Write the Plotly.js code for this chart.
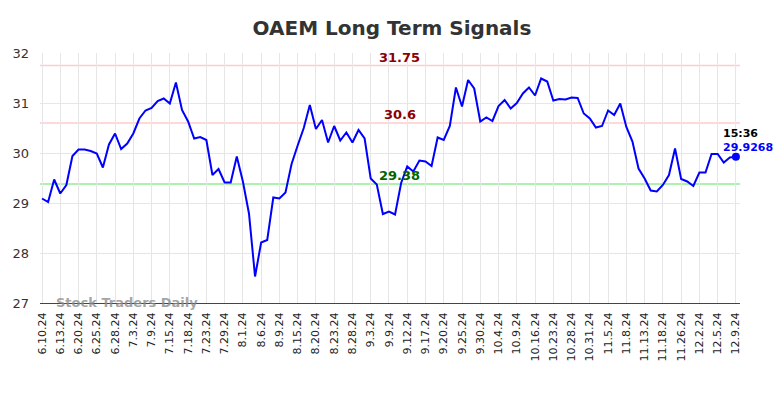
<!DOCTYPE html>
<html>
<head>
<meta charset="utf-8">
<script src="https://cdn.plot.ly/plotly-3.0.1.min.js"></script>
<style>html,body{margin:0;padding:0;background:#fff;}#chart{width:784px;height:398px;}</style>
</head>
<body>
<div id="chart"></div>
<script>
const tickLabels = ["6.10.24","6.13.24","6.20.24","6.25.24","6.28.24","7.3.24","7.9.24","7.15.24","7.18.24","7.23.24","7.29.24","8.1.24","8.6.24","8.9.24","8.15.24","8.20.24","8.23.24","8.28.24","9.3.24","9.9.24","9.12.24","9.17.24","9.20.24","9.25.24","9.30.24","10.4.24","10.9.24","10.16.24","10.23.24","10.28.24","10.31.24","11.5.24","11.8.24","11.13.24","11.18.24","11.26.24","12.2.24","12.5.24","12.9.24"];
const prices = [29.09,29.02,29.47,29.19,29.36,29.94,30.07,30.07,30.04,29.99,
29.71,30.17,30.39,30.08,30.19,30.39,30.69,30.85,30.90,31.04,
31.09,30.99,31.41,30.86,30.63,30.29,30.32,30.26,29.56,29.68,
29.41,29.41,29.93,29.43,28.79,27.53,28.21,28.26,29.11,29.09,
29.21,29.78,30.15,30.50,30.96,30.48,30.66,30.21,30.54,30.25,
30.41,30.21,30.46,30.29,29.49,29.37,28.78,28.83,28.77,29.40,
29.73,29.63,29.85,29.83,29.74,30.31,30.26,30.54,31.31,30.93,
31.46,31.29,30.63,30.71,30.64,30.94,31.06,30.89,31.00,31.19,
31.31,31.15,31.49,31.43,31.05,31.08,31.07,31.11,31.10,30.79,
30.69,30.51,30.54,30.85,30.76,30.99,30.52,30.23,29.69,29.49,
29.25,29.23,29.36,29.56,30.09,29.48,29.43,29.34,29.61,29.61,
29.98,29.98,29.81,29.91,29.9268];
const levels = [31.75, 30.6, 29.38];
const levelLabels = ["31.75","30.6","29.38"];
const levelLineColors = ["#ffcccc","#ffcccc","#90ee90"];
const levelTextColors = ["#8b0000","#8b0000","#006400"];
const lastTime = "15:36";
const tickStep = 3;

const idx = prices.map((_, i) => i);
const tickvals = tickLabels.map((_, i) => i * tickStep);
const last = prices.length - 1;

const shapes = levels.map((v, i) => ({
  type: 'line', xref: 'paper', x0: 0, x1: 1, yref: 'y', y0: v, y1: v,
  line: {color: levelLineColors[i], width: 1.5}, layer: 'below'
}));

const annotations = levels.map((v, i) => ({
  xref: 'paper', x: 0.514, yref: 'y', y: v, yanchor: 'bottom', yshift: -1,
  text: '<b>' + levelLabels[i] + '</b>', showarrow: false,
  font: {family: 'DejaVu Sans', size: 13, color: levelTextColors[i]}
}));
annotations.push({
  x: last, y: prices[last], xref: 'x', yref: 'y', xanchor: 'left', xshift: -15, yshift: 23,
  text: '<b>' + lastTime + '</b>', showarrow: false,
  font: {family: 'DejaVu Sans', size: 11, color: '#000'}
});
annotations.push({
  x: last, y: prices[last], xref: 'x', yref: 'y', xanchor: 'left', xshift: -15, yshift: 9,
  text: '<b>' + prices[last] + '</b>', showarrow: false,
  font: {family: 'DejaVu Sans', size: 11, color: '#0000ff'}
});
annotations.push({
  xref: 'paper', x: 0.02, yref: 'paper', y: 0.0, xanchor: 'left', yanchor: 'middle', yshift: 1,
  text: '<b>Stock Traders Daily</b>', showarrow: false,
  font: {family: 'DejaVu Sans', size: 13, color: 'rgba(140,140,140,0.8)'}
});

const traces = [
  {x: idx, y: prices, type: 'scatter', mode: 'lines', line: {color: '#0000ff', width: 2}, hoverinfo: 'skip'},
  {x: [last], y: [prices[last]], type: 'scatter', mode: 'markers', marker: {color: '#0000ff', size: 8}, hoverinfo: 'skip'}
];

const layout = {
  width: 784, height: 398,
  margin: {l: 40, r: 44, t: 53, b: 95},
  paper_bgcolor: '#fff', plot_bgcolor: '#fff',
  showlegend: false,
  title: {text: '<b>OAEM Long Term Signals</b>', x: 0.5, xanchor: 'center', y: 0.93, yanchor: 'middle',
    font: {family: 'DejaVu Sans', size: 20, color: '#333'}},
  xaxis: {
    range: [-0.33, 114.67], tickmode: 'array', tickvals: tickvals, ticktext: tickLabels,
    tickangle: -90, tickfont: {family: 'DejaVu Sans', size: 11, color: '#222'},
    ticklabelstandoff: 4,
    showgrid: true, gridcolor: '#e6e6e6', gridwidth: 1,
    showline: true, linecolor: '#444', linewidth: 1, zeroline: false, ticks: '', ticklen: 0
  },
  yaxis: {
    range: [27, 32], dtick: 1, tickfont: {family: 'DejaVu Sans', size: 13, color: '#333'},
    ticklabelstandoff: 10,
    showgrid: true, gridcolor: '#e6e6e6', gridwidth: 1, zeroline: false, showline: false, ticks: ''
  },
  shapes: shapes,
  annotations: annotations
};

Plotly.newPlot('chart', traces, layout, {staticPlot: true, displayModeBar: false});
</script>
</body>
</html>
